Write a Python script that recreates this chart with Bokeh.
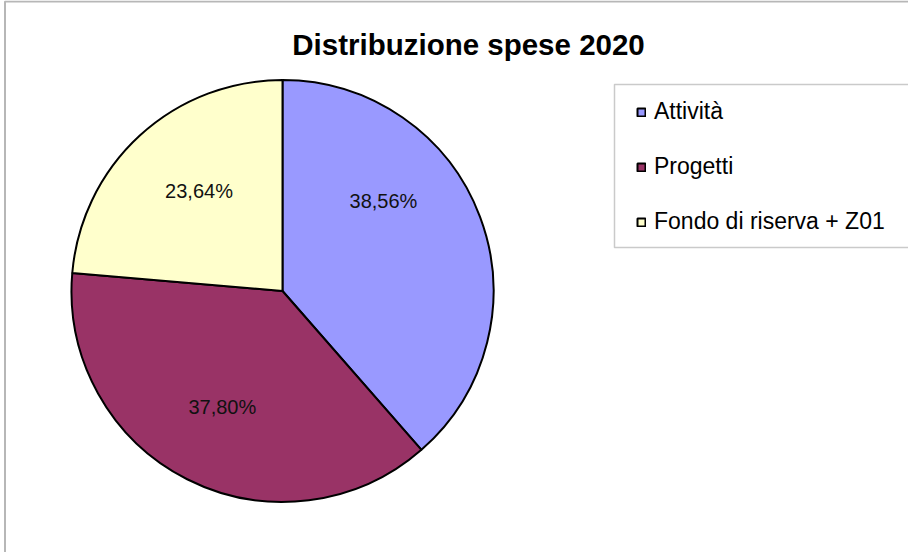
import math
from bokeh.plotting import figure
from bokeh.models import ColumnDataSource, Range1d, Label, BoxAnnotation, Legend, LegendItem
from bokeh.embed import file_html
from bokeh.resources import INLINE

# ---- data ----
categories = ["Attività", "Progetti", "Fondo di riserva + Z01"]
percentages = [38.56, 37.80, 23.64]
colors = ["#9999FF", "#993366", "#FFFFCC"]
title_text = "Distribuzione spese 2020"

# ---- layout (pixels) ----
W, H = 908, 552
CX, CY, R = 282, 261.5, 211
# label angle adjustment (degrees, clockwise from slice middle) and distance from centre
label_shift = [-21.0, 0.5, 2.6]
label_dist = [135, 131, 130]

total = sum(percentages)
starts, ends, lx, ly, texts = [], [], [], [], []
cum = 0.0
for i, v in enumerate(percentages):
    f0 = cum / total
    cum += v
    f1 = cum / total
    starts.append(math.pi / 2 - 2 * math.pi * f0)
    ends.append(math.pi / 2 - 2 * math.pi * f1)
    mid_deg = (f0 + f1) / 2 * 360 + label_shift[i]
    a = math.radians(mid_deg)
    lx.append(CX + label_dist[i] * math.sin(a))
    ly.append(CY + label_dist[i] * math.cos(a))
    texts.append(f"{v:.2f}".replace(".", ",") + "%")

src = ColumnDataSource(dict(cat=categories, start=starts, end=ends, color=colors,
                            lx=lx, ly=ly, txt=texts))

p = figure(width=W, height=H, x_range=Range1d(0, W), y_range=Range1d(0, H),
           output_backend="svg", toolbar_location=None, min_border=0)
p.axis.visible = False
p.grid.visible = False
p.outline_line_color = None
p.background_fill_color = "white"
p.border_fill_color = "white"

# chart border (extends past right/bottom edges as in reference)
p.add_layout(BoxAnnotation(left=4.5, right=W + 20, top=H - 1, bottom=-20,
                           fill_color=None, line_color="#111111", line_width=2))

w = p.wedge(x=CX, y=CY, radius=R, start_angle="start", end_angle="end",
            direction="clock", fill_color="color", line_color="black",
            line_width=2, source=src)

p.text(x="lx", y="ly", text="txt", source=src, text_align="center",
       text_baseline="middle", text_font_size="20px", text_color="#111111",
       text_font={"value": "Liberation Sans"})

p.add_layout(Label(x=468, y=H - 44, text=title_text, text_align="center",
                   text_baseline="middle", text_font_size="29.5px",
                   text_font_style="bold", text_font="Liberation Sans",
                   text_color="black"))

# legend frame
p.add_layout(BoxAnnotation(left=614, right=W + 20, top=468, bottom=305,
                           fill_color="white", fill_alpha=1.0,
                           line_color="#505050", line_width=1.5))

items = [LegendItem(label=c, renderers=[w], index=i) for i, c in enumerate(categories)]
legend = Legend(items=items, location=(636, 317), orientation="vertical",
                glyph_width=10, glyph_height=10, label_standoff=8,
                padding=0, spacing=28, label_height=10, label_width=250,
                label_text_font="Liberation Sans", label_text_font_size="23px",
                label_text_color="black", border_line_color=None,
                background_fill_alpha=0.0, margin=0)
p.add_layout(legend, "center")

open("out.html", "w").write(file_html(p, INLINE))
